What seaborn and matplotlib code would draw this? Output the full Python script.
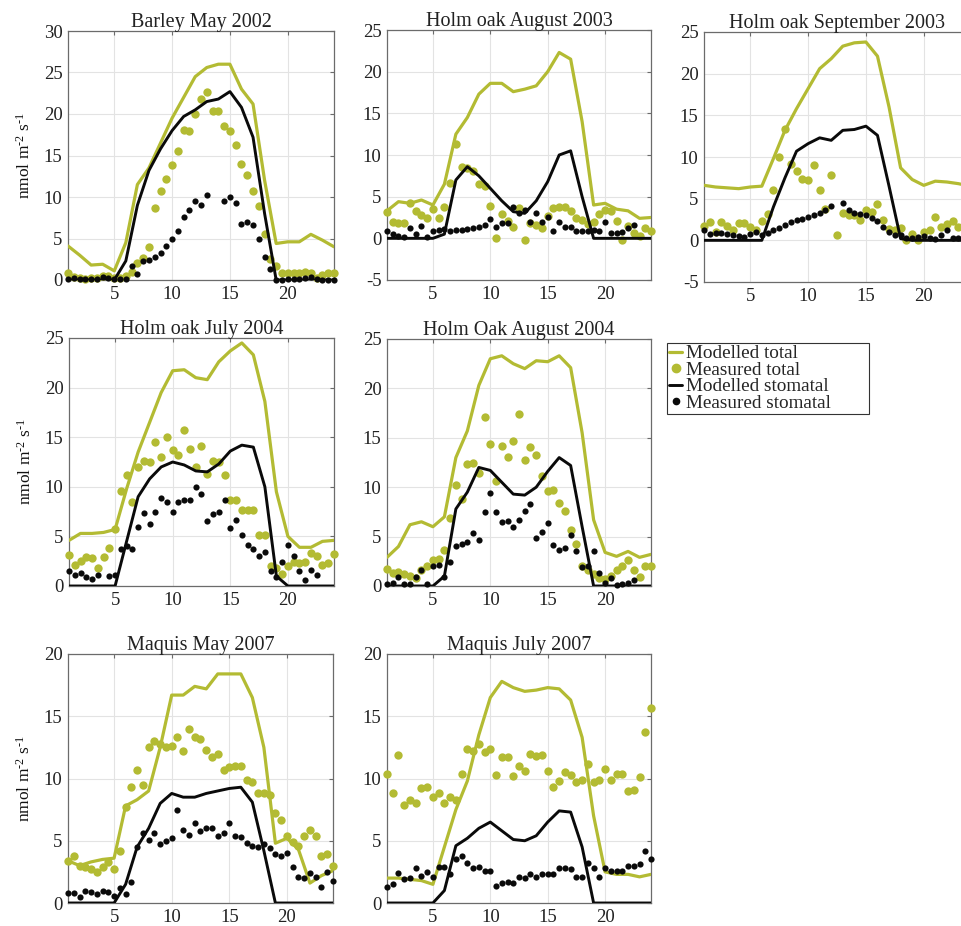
import numpy as np
import pandas as pd
import matplotlib
matplotlib.use("Agg")
import matplotlib.pyplot as plt
from matplotlib.lines import Line2D
import seaborn as sns

nan = np.nan

# ---------------- data ----------------
hours = list(range(1, 25))                 # modelled, hourly
half_hours = list(np.arange(1.0, 24.01, 0.5))  # measured, half-hourly

titles = ["Barley May 2002", "Holm oak August 2003", "Holm oak September 2003",
          "Holm oak July 2004", "Holm Oak August 2004", "Maquis May 2007", "Maquis July 2007"]

# Barley May 2002
barley_mod_tot = [4.1, 3.0, 1.8, 1.9, 1.1, 4.5, 11.5, 13.5, 16.5, 19.5, 22.0, 24.5, 25.6, 26.0, 26.0, 23.0, 21.2, 12.0, 4.4, 4.6, 4.6, 5.5, 4.8, 4.0]
barley_mod_sto = [0, 0, 0, 0, 0, 2.3, 9.0, 13.2, 15.8, 18.0, 19.7, 20.5, 21.5, 21.8, 22.7, 20.8, 17.2, 8.0, 0, 0, 0, 0, 0, 0]
barley_meas_tot = [0.9, 0.4, 0.2, 0.1, 0.2, 0.3, 0.5, 0.5, 0.3, 0.2, 0.5, 1.0, 2.0, 2.6, 4.0, 8.7, 10.7, 12.2, 13.9, 15.5,
                   18.1, 17.9, 20.0, 21.8, 22.6, 20.4, 20.4, 18.6, 17.9, 16.3, 14.0, 12.6, 10.7, 8.9, 5.6, 2.5, 1.7, 0.8, 0.8, 0.8,
                   0.9, 1.0, 0.8, 0.3, 0.6, 0.8, 0.9]
barley_meas_sto = [0.1, 0.2, 0.1, 0.1, 0.1, 0.1, 0.4, 0.3, 0.1, 0.1, 0.1, 1.7, 0.7, 2.3, 2.4, 2.8, 3.3, 4.1, 4.9, 5.9,
                   7.6, 8.4, 9.5, 9.0, 10.3, nan, nan, 9.5, 10.0, 9.3, 6.8, 7.0, 6.6, 5.0, 2.8, 1.3, 0.0, 0.0, 0.1, 0.1,
                   0.1, 0.2, 0.4, 0.1, 0.0, 0.0, 0.0]

# Holm oak August 2003
ho03a_mod_tot = [3.3, 4.4, 4.2, 4.6, 4.0, 6.5, 12.5, 14.5, 17.3, 18.6, 18.6, 17.6, 17.9, 18.3, 20.0, 22.3, 21.5, 14.0, 4.0, 4.2, 3.5, 3.3, 2.4, 2.5]
ho03a_mod_sto = [0, 0, 0, 0, 0, 0.5, 7.0, 8.6, 7.5, 6.0, 4.5, 3.2, 3.0, 4.5, 6.8, 10.0, 10.5, 5.0, 0, 0, 0, 0, 0, 0]
ho03a_meas_tot = [3.2, 2.0, 1.8, 1.8, 4.2, 3.3, 2.8, 2.5, 3.5, 2.4, 3.8, 6.6, 11.3, 8.6, 8.5, 8.1, 6.5, 6.3, 3.9, 0.0,
                  2.9, 2.1, 1.4, 3.7, -0.2, 1.9, 1.6, 1.3, 2.7, 3.7, 3.8, 3.8, 3.3, 2.5, 2.2, 1.7, 2.0, 2.9, 3.4, 3.3,
                  2.1, -0.2, 1.5, 0.7, 0.3, 1.3, 0.9]
ho03a_meas_sto = [0.9, 0.5, 0.3, 0.2, 1.3, 0.5, 1.5, 0.2, 0.9, 1.0, 1.1, 0.9, 1.0, 1.0, 1.1, 1.2, 1.4, 1.6, 2.3, 1.4,
                  1.8, 1.9, 3.8, 3.1, 3.4, 2.0, 3.1, 2.0, 2.6, 0.9, 2.0, 1.4, 1.4, 0.9, 0.9, 0.9, 1.0, 0.9, 2.0, 0.7,
                  0.7, 0.8, 1.3, 1.6, nan, nan, nan]

# Holm oak September 2003
ho03s_mod_tot = [6.6, 6.4, 6.3, 6.2, 6.4, 6.5, 9.8, 13.2, 15.8, 18.2, 20.6, 21.8, 23.3, 23.7, 23.8, 22.1, 16.0, 8.7, 7.3, 6.6, 7.1, 7.0, 6.8, 6.5]
ho03s_mod_sto = [0, 0, 0, 0, 0, 0, 4.0, 7.5, 10.7, 11.6, 12.3, 12.0, 13.2, 13.3, 13.7, 12.6, 6.5, 0.2, 0, 0, 0, 0, 0, 0]
ho03s_meas_tot = [1.7, 2.2, 1.0, 2.2, 1.7, 1.2, 2.1, 2.1, 1.6, 1.2, 2.3, 3.2, 6.1, 10.0, 13.4, 9.2, 8.3, 7.4, 7.2, 9.0,
                  6.1, 3.8, 7.8, 0.7, 3.3, 3.0, 3.1, 2.4, 3.6, 3.4, 4.4, 2.4, 1.4, 1.2, 1.5, 0.0, 0.8, 0.0, 1.0, 1.2,
                  2.8, 1.6, 2.0, 2.3, 1.6, 1.9, 1.5]
ho03s_meas_sto = [1.2, 0.8, 0.9, 0.9, 0.8, 0.6, 0.5, 0.4, 0.8, 1.0, 0.7, 0.9, 1.2, 1.5, 1.8, 2.2, 2.4, 2.6, 2.8, 3.0,
                  3.3, 3.6, 4.1, nan, 4.5, 3.6, 3.3, 3.2, 3.0, 2.7, 2.3, 1.6, 1.0, 0.7, 0.6, 0.3, 0.3, 0.4, 0.5, 0.3,
                  0.2, 0.6, 1.2, 0.3, 0.3, nan, nan]

# Holm oak July 2004
ho04j_mod_tot = [4.6, 5.3, 5.3, 5.4, 5.7, 9.8, 13.5, 16.5, 19.5, 21.7, 21.8, 21.0, 20.8, 22.6, 23.7, 24.5, 23.3, 18.6, 9.5, 5.0, 3.9, 3.9, 4.5, 4.6]
ho04j_mod_sto = [0, 0, 0, 0, 0, 4.5, 9.0, 10.8, 12.0, 12.5, 12.2, 11.6, 11.5, 12.3, 13.6, 14.2, 14.0, 10.0, 1.0, 0, 0, 0, 0, 0]
ho04j_meas_tot = [3.1, 2.1, 2.5, 2.9, 2.8, 1.8, 2.9, 3.8, 5.7, 9.6, 11.2, 8.5, 12.0, 12.6, 12.5, 14.5, 13.0, 15.0, 13.7, 13.2,
                  15.7, 13.8, 12.0, 14.1, 11.3, 12.6, 12.5, 11.2, 8.7, 8.7, 7.7, 7.7, 7.7, 5.1, 5.1, 2.0, 1.8, 1.2, 2.0, 2.4,
                  2.3, 2.4, 3.3, 3.0, 2.1, 2.3, 3.2]
ho04j_meas_sto = [1.5, 1.1, 1.3, 0.9, 0.7, 1.1, nan, 1.0, 1.1, 3.7, 4.0, 3.7, 5.9, 7.4, 6.3, 7.5, 8.9, 8.5, 7.5, 8.5,
                  8.7, 8.7, 10.0, 9.3, 6.6, 7.3, 7.5, 8.7, 5.8, 6.7, 5.1, 4.1, 3.7, 3.0, 3.4, 1.5, 0.9, 2.4, 4.1, 3.0,
                  1.5, 0.6, 1.6, 1.1, nan, nan, nan]

# Holm Oak August 2004
ho04a_mod_tot = [2.9, 4.0, 6.2, 6.5, 6.0, 7.0, 13.0, 15.7, 20.3, 23.0, 23.3, 22.5, 22.0, 22.8, 22.7, 23.3, 22.1, 15.5, 6.7, 3.4, 3.0, 3.5, 2.9, 3.2]
ho04a_mod_sto = [0, 0, 0, 0, 0, 1.0, 7.8, 9.5, 12.0, 11.7, 10.5, 9.3, 9.2, 10.0, 11.6, 13.0, 12.2, 6.0, 0, 0, 0, 0, 0, 0]
ho04a_meas_tot = [1.7, 1.3, 1.4, 1.2, 1.0, 0.8, 1.6, 2.0, 2.6, 2.7, 3.6, 6.9, 10.2, 8.8, 12.3, 12.4, 11.4, 17.1, 14.4, 10.6,
                  14.2, 13.1, 14.7, 17.4, 12.8, 14.1, 13.3, 11.1, 9.6, 9.7, 8.4, 7.6, 5.7, 4.3, 2.0, 1.6, 1.2, 0.8, 0.7, 1.0,
                  1.6, 2.0, 2.6, 1.6, 0.9, 2.0, 2.0]
ho04a_meas_sto = [0.2, 0.3, 0.9, 0.2, 0.2, 0.9, 1.6, 0.2, 2.0, 2.1, 0.9, 2.4, 4.0, 4.3, 4.5, 5.4, 4.7, 7.5, 9.4, 7.5,
                  6.5, 6.6, 6.0, 6.7, 7.6, 8.3, 4.9, 5.5, 6.4, 4.2, 3.6, 3.8, 5.2, 3.5, 1.9, 2.0, 3.5, 1.3, 0.3, 0.8,
                  0.1, 0.2, 0.3, 0.6, nan, nan, nan]

# Maquis May 2007
mq07m_mod_tot = [3.4, 3.0, 3.3, 3.5, 3.6, 7.8, 8.3, 9.0, 12.5, 16.7, 16.7, 17.4, 17.2, 18.4, 18.4, 18.4, 16.5, 12.5, 4.8, 5.2, 4.3, 1.6, 2.2, 2.6]
mq07m_mod_sto = [0, 0, 0, 0, 0, 1.5, 4.5, 6.0, 8.0, 8.8, 8.5, 8.5, 8.8, 9.0, 9.2, 9.3, 8.1, 4.2, 0, 0, 0, 0, 0, 0]
mq07m_meas_tot = [3.4, 3.8, 3.0, 2.9, 2.7, 2.5, 2.9, 3.3, 2.7, 4.2, 7.7, 9.3, 10.7, 9.5, 12.5, 13.0, 12.8, 12.5, 12.6, 13.3,
                  12.2, 14.0, 13.3, 13.2, 12.3, 11.7, 12.0, 10.7, 10.9, 11.0, 11.0, 9.9, 9.7, 8.8, 8.8, 8.7, 7.2, 6.7, 5.4, 4.9,
                  4.6, 5.4, 5.9, 5.4, 3.8, 3.9, 3.0]
mq07m_meas_sto = [0.8, 0.8, 0.5, 1.0, 0.9, 0.7, 1.0, 0.9, 0.6, 1.2, 0.7, 1.7, 4.5, 5.6, 5.1, 5.6, 4.7, 5.0, 5.2, 7.5,
                  5.9, 5.5, 6.4, 5.8, 6.0, 6.0, 5.4, 5.6, 6.4, 5.4, 5.3, 4.8, 4.6, 4.5, 4.7, 4.4, 3.9, 3.8, 4.0, 2.9,
                  2.1, 2.0, 2.4, 2.1, 1.3, 2.5, 1.8]

# Maquis July 2007
mq07j_mod_tot = [2.0, 2.0, 1.9, 1.8, 1.5, 4.5, 7.5, 9.8, 13.5, 16.5, 17.8, 17.3, 17.0, 17.1, 17.3, 17.2, 16.3, 13.3, 7.0, 2.5, 2.3, 2.3, 2.1, 2.3]
mq07j_mod_sto = [0, 0, 0, 0, 0, 1.0, 4.6, 5.2, 6.0, 6.5, 5.8, 5.1, 5.0, 5.4, 6.5, 7.4, 7.3, 4.5, 0, 0, 0, 0, 0, 0]
mq07j_meas_tot = [10.4, 8.8, 11.9, 7.9, 8.3, 8.0, 9.2, 9.3, 8.5, 8.8, 8.0, 8.5, 8.3, 10.4, 12.4, 12.2, 12.8, 12.1, 12.4, 10.3,
                  11.7, 11.7, 10.2, 11.0, 10.6, 12.0, 11.8, 11.9, 10.6, 9.3, 9.8, 10.5, 10.3, 9.7, 9.9, 11.2, 9.7, 9.9, 10.8, 9.9,
                  10.4, 10.4, 9.0, 9.1, 10.1, 13.7, 15.7]
mq07j_meas_sto = [1.3, 1.5, 2.4, 1.9, 2.0, 2.8, 2.2, 2.5, 2.1, 2.9, 2.9, 2.3, 3.5, 3.8, 3.2, 2.8, 2.9, 2.6, 2.6, 1.4,
                  1.6, 1.7, 1.6, 2.1, 2.0, 2.3, 2.1, 2.3, 2.3, 2.3, 2.8, 2.8, 2.7, 2.1, 2.1, 3.2, 2.8, 2.1, 2.8, 2.6,
                  2.6, 2.6, 3.0, 3.0, 3.1, 4.2, 3.5]

panels = [
    (barley_mod_tot, barley_meas_tot, barley_mod_sto, barley_meas_sto),
    (ho03a_mod_tot, ho03a_meas_tot, ho03a_mod_sto, ho03a_meas_sto),
    (ho03s_mod_tot, ho03s_meas_tot, ho03s_mod_sto, ho03s_meas_sto),
    (ho04j_mod_tot, ho04j_meas_tot, ho04j_mod_sto, ho04j_meas_sto),
    (ho04a_mod_tot, ho04a_meas_tot, ho04a_mod_sto, ho04a_meas_sto),
    (mq07m_mod_tot, mq07m_meas_tot, mq07m_mod_sto, mq07m_meas_sto),
    (mq07j_mod_tot, mq07j_meas_tot, mq07j_mod_sto, mq07j_meas_sto),
]
y_limits = [(0, 30), (-5, 25), (-5, 25), (0, 25), (0, 25), (0, 20), (0, 20)]
x_ticks = [5, 10, 15, 20]
legend_labels = ["Modelled total", "Measured total", "Modelled stomatal", "Measured stomatal"]
ylabel_text = r"nmol m$^{\text{-2}}$ s$^{\text{-1}}$"

# ---------------- style ----------------
sns.set_style("whitegrid")
plt.rcParams["font.family"] = ["Liberation Serif", "DejaVu Serif"]
plt.rcParams["axes.unicode_minus"] = False
plt.rcParams["mathtext.fontset"] = "custom"
plt.rcParams["mathtext.rm"] = "Liberation Serif"
plt.rcParams["mathtext.it"] = "Liberation Serif:italic"
plt.rcParams["mathtext.bf"] = "Liberation Serif:bold"

OLIVE = "#b3bb33"
BLACK = "#0a0a0a"
SPINE = "#6b6b6b"
GRID = "#e3e3e3"

W, H = 962, 926
fig = plt.figure(figsize=(W / 100, H / 100), dpi=100)
fig.patch.set_facecolor("white")

# (left, top, width, height) in pixels
boxes = [
    (68, 31, 266, 249),
    (387, 30, 264, 250),
    (704, 32, 266, 250),
    (69, 338, 265, 248),
    (387, 339, 264, 247),
    (68, 654, 265, 249),
    (387, 654, 264, 249),
]

for i, (box, data, title, ylim) in enumerate(zip(boxes, panels, titles, y_limits)):
    l, t, w, h = box
    ax = fig.add_axes([l / W, 1 - (t + h) / H, w / W, h / H])
    mod_tot, meas_tot, mod_sto, meas_sto = data
    df_mod = pd.DataFrame({"hour": hours, "tot": mod_tot, "sto": mod_sto})
    df_meas = pd.DataFrame({"hour": half_hours, "tot": meas_tot, "sto": meas_sto})

    sns.lineplot(data=df_mod, x="hour", y="tot", color=OLIVE, linewidth=2.3,
                 estimator=None, errorbar=None, sort=False, ax=ax, zorder=3)
    sns.scatterplot(data=df_meas, x="hour", y="tot", color=OLIVE, s=36,
                    linewidth=0, ax=ax, zorder=4, clip_on=False)
    sns.lineplot(data=df_mod, x="hour", y="sto", color=BLACK, linewidth=2.1,
                 estimator=None, errorbar=None, sort=False, ax=ax, zorder=5)
    sns.scatterplot(data=df_meas, x="hour", y="sto", color=BLACK, s=20,
                    linewidth=0, ax=ax, zorder=6, clip_on=False)

    ax.set_xlim(1, 24)
    ax.set_ylim(*ylim)
    ax.set_xticks(x_ticks)
    ax.set_yticks(np.arange(ylim[0], ylim[1] + 0.1, 5))
    ax.grid(True, color=GRID, linewidth=0.8)
    ax.set_axisbelow(True)
    for sp in ax.spines.values():
        sp.set_color(SPINE)
        sp.set_linewidth(0.9)
    ax.tick_params(direction="in", length=3, width=0.8, color=SPINE,
                   top=True, right=True, labelsize=13.5, pad=4,
                   labelcolor="#222222")
    ax.set_title(title, fontsize=14.5, pad=3, color="#222222")
    ax.set_xlabel("")
    if i in (0, 3, 5):
        ax.set_ylabel(ylabel_text, fontsize=12.5, labelpad=7, color="#111111")
    else:
        ax.set_ylabel("")

handles = [
    Line2D([], [], color=OLIVE, linewidth=2.3),
    Line2D([], [], color=OLIVE, marker="o", linestyle="none", markersize=6),
    Line2D([], [], color=BLACK, linewidth=2.1),
    Line2D([], [], color=BLACK, marker="o", linestyle="none", markersize=4.5),
]
leg = fig.legend(handles, legend_labels, loc="upper left",
                 bbox_to_anchor=(667 / W, 1 - 417 / H, 202 / W, 74 / H),
                 mode="expand", borderaxespad=0, frameon=True, fancybox=False,
                 fontsize=13.8, handlelength=0.7, handletextpad=0.2,
                 labelspacing=-0.05, borderpad=0.1, framealpha=1)
leg.get_frame().set_edgecolor("#333333")
leg.get_frame().set_linewidth(0.8)

fig.savefig("out.png", dpi=100, facecolor="white")
